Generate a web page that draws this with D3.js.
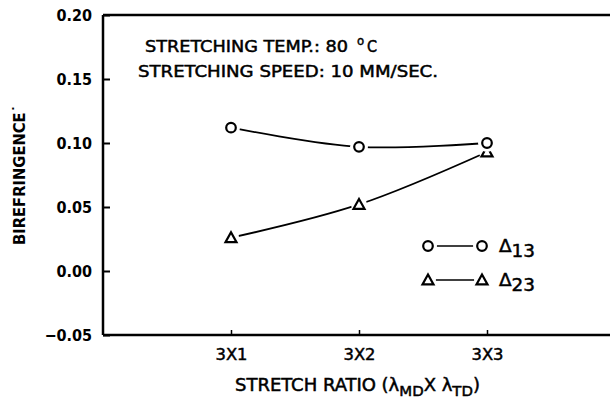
<!DOCTYPE html>
<html><head><meta charset="utf-8">
<script src="https://cdn.jsdelivr.net/npm/d3@7"></script>
<style>body{margin:0;background:#fff}svg{display:block}text{font-family:"DejaVu Sans Condensed","DejaVu Sans",Arial,sans-serif;fill:#000}.thick{stroke:#000;stroke-width:0.45px}</style>
</head><body>
<svg id="c" width="610" height="405"></svg>
<script>
const categories = ["3X1", "3X2", "3X3"];
const delta13 = [0.112, 0.097, 0.100];
const delta23 = [0.026, 0.052, 0.093];
const yTicks = [-0.05, 0.00, 0.05, 0.10, 0.15, 0.20];

const svg = d3.select("#c");
const L = 103, T = 15, B = 335;
const x = d3.scaleLinear().domain([0, 4]).range([L, L + 4 * 128]);
const y = d3.scaleLinear().domain([-0.05, 0.20]).range([B, T]);

// frame lines
svg.append("line").attr("x1", L).attr("x2", 610).attr("y1", T).attr("y2", T).attr("stroke", "#000").attr("stroke-width", 2.5);
svg.append("line").attr("x1", L).attr("x2", 610).attr("y1", B).attr("y2", B).attr("stroke", "#000").attr("stroke-width", 2.5);
svg.append("line").attr("x1", L).attr("x2", L).attr("y1", T).attr("y2", B).attr("stroke", "#000").attr("stroke-width", 2.5);

// y axis
const yAxis = d3.axisLeft(y).tickValues(yTicks).tickFormat(d3.format(".2f")).tickSize(-7).tickPadding(11);
const gy = svg.append("g").attr("transform", `translate(${L},0)`).call(yAxis);
gy.select(".domain").remove();
gy.selectAll(".tick line").attr("stroke", "#000").attr("stroke-width", 2);
gy.selectAll(".tick text").attr("font-size", 16).attr("font-weight", "bold").attr("font-family", "DejaVu Sans").attr("dy", "0.35em")
  .text(d => d3.format(".2f")(d).replace("-", "\u2212"));

// x axis
const xAxis = d3.axisBottom(x).tickValues([1, 2, 3]).tickFormat(i => categories[i - 1]).tickSize(-5).tickPadding(13);
const gx = svg.append("g").attr("transform", `translate(0,${B})`).call(xAxis);
gx.select(".domain").remove();
gx.selectAll(".tick line").attr("stroke", "#000").attr("stroke-width", 1.5);
gx.selectAll(".tick text").attr("font-size", 16.5).attr("font-family", "DejaVu Sans Condensed").attr("class", "thick")
  .attr("textLength", 32).attr("lengthAdjust", "spacingAndGlyphs");

// lines
const line = d3.line().x((d, i) => x(i + 1)).y(d => y(d)).curve(d3.curveCatmullRom);
[delta13, delta23].forEach(s => {
  svg.append("path").attr("d", line(s)).attr("fill", "none").attr("stroke", "#000").attr("stroke-width", 1.8);
});

function circ(g, cx, cy) {
  g.append("circle").attr("cx", cx).attr("cy", cy).attr("r", 9).attr("fill", "#fff");
  g.append("circle").attr("cx", cx).attr("cy", cy).attr("r", 4.8).attr("fill", "#fff").attr("stroke", "#000").attr("stroke-width", 2.2);
}
function tri(g, cx, cy) {
  g.append("circle").attr("cx", cx).attr("cy", cy).attr("r", 8).attr("fill", "#fff");
  const s = 5.5;
  g.append("path").attr("d", `M${cx},${cy - s}L${cx + s},${cy + s * 0.8}L${cx - s},${cy + s * 0.8}Z`)
    .attr("fill", "#fff").attr("stroke", "#000").attr("stroke-width", 2.2).attr("stroke-linejoin", "miter");
}
const gm = svg.append("g");
delta23.forEach((d, i) => tri(gm, x(i + 1), y(d)));
delta13.forEach((d, i) => circ(gm, x(i + 1), y(d)));

// annotations
svg.append("text").attr("x", 145).attr("y", 52).attr("font-size", 16).attr("class", "thick")
  .attr("textLength", 203).attr("lengthAdjust", "spacingAndGlyphs").text("STRETCHING TEMP.: 80");
svg.append("text").attr("x", 357).attr("y", 45).attr("font-size", 13).attr("class", "thick").text("o");
svg.append("text").attr("x", 367).attr("y", 52).attr("font-size", 16).attr("class", "thick").text("C");
svg.append("text").attr("x", 138).attr("y", 77).attr("font-size", 16).attr("class", "thick")
  .attr("textLength", 300).attr("lengthAdjust", "spacingAndGlyphs").text("STRETCHING SPEED: 10 MM/SEC.");

// legend
const lg = svg.append("g");
[[246, "13", "c"], [280, "23", "t"]].forEach(([ly, sub, m]) => {
  lg.append("line").attr("x1", 428).attr("x2", 482).attr("y1", ly).attr("y2", ly).attr("stroke", "#000").attr("stroke-width", 1.5);
  if (m === "c") { circ(lg, 428, ly); circ(lg, 482, ly); } else { tri(lg, 428, ly); tri(lg, 482, ly); }
  lg.append("text").attr("x", 499).attr("y", ly + 6).attr("font-size", 18).attr("class", "thick")
    .attr("textLength", 36).attr("lengthAdjust", "spacingAndGlyphs")
    .html(`Δ<tspan dy="5" font-size="18">${sub}</tspan>`);
});

// axis titles
svg.append("text").attr("transform", "translate(25,175) rotate(-90)").attr("text-anchor", "middle")
  .attr("font-size", 16.5).attr("font-weight", "bold").attr("textLength", 140).attr("lengthAdjust", "spacingAndGlyphs")
  .text("BIREFRINGENCE\u02D9");
svg.append("text").attr("x", 235).attr("y", 391).attr("font-size", 17.5).attr("class", "thick")
  .attr("textLength", 245).attr("lengthAdjust", "spacingAndGlyphs")
  .html('STRETCH RATIO (λ<tspan dy="5" font-size="14.5">MD</tspan><tspan dy="-5">X λ</tspan><tspan dy="5" font-size="14.5">TD</tspan><tspan dy="-5">)</tspan>');
</script>
</body></html>
